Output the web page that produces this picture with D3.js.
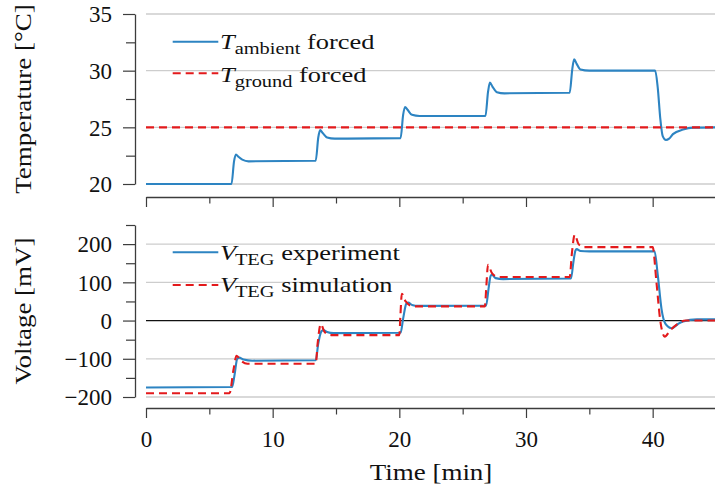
<!DOCTYPE html>
<html>
<head>
<meta charset="utf-8">
<script src="https://cdn.jsdelivr.net/npm/d3@7"></script>
<style>
  html, body { margin: 0; padding: 0; background: #fff; }
  svg { display: block; }
  text { font-family: "Liberation Serif", "Times New Roman", serif; fill: #111; }
</style>
</head>
<body>
<svg id="chart" width="715" height="491"></svg>
<script>
// ---------------- data ----------------
const xTicks = [0, 10, 20, 30, 40];
const xMinorTicks = [5, 15, 25, 35, 45];
const tempTicks = [20, 25, 30, 35];
const tempMinorTicks = [22.5, 27.5, 32.5];
const voltTicks = [-200, -100, 0, 100, 200];
const voltMinorTicks = [-150, -50, 50, 150, 250];
const voltGrid = [-200, -100, 100, 200];

// [time (min), temperature (°C)]
const ambientForced = [
  [0, 20], [6.75, 20], [6.95, 22.0], [7.1, 22.6], [7.3, 22.4], [7.6, 22.15], [8.1, 22.0], [13.4, 22.05],
  [13.6, 24.1], [13.75, 24.75], [13.95, 24.5], [14.3, 24.1], [14.9, 24.0], [20.1, 24.05],
  [20.3, 26.1], [20.45, 26.8], [20.65, 26.55], [21.0, 26.1], [21.6, 26.0], [26.8, 26.0],
  [27.0, 28.1], [27.15, 28.95], [27.35, 28.6], [27.7, 28.1], [28.3, 28.0], [33.45, 28.05],
  [33.65, 30.1], [33.8, 31.0], [34.0, 30.6], [34.3, 30.1], [35.0, 30.0], [40.2, 30.0],
  [40.4, 28.5], [40.6, 25.8], [40.8, 24.2], [41.05, 23.88], [41.3, 24.0], [41.6, 24.4],
  [42.4, 24.8], [43.2, 24.97], [45, 25.0]
];
const groundForced = [[0, 25], [45, 25]];

// [time (min), voltage (mV)]
const vExperiment = [
  [0, -175], [6.8, -174], [7.0, -140], [7.2, -100], [7.35, -97], [7.7, -102], [8.4, -105], [13.4, -104],
  [13.6, -60], [13.85, -28], [14.0, -25], [14.3, -30], [14.8, -33], [20.1, -32],
  [20.3, 5], [20.55, 44], [20.7, 47], [21.0, 41], [21.5, 38.5], [26.85, 39],
  [27.05, 85], [27.2, 116], [27.3, 120], [27.6, 111], [28.2, 108.5], [33.55, 110],
  [33.75, 155], [33.9, 183], [34.0, 187], [34.3, 182], [35.0, 181], [40.15, 181],
  [40.4, 120], [40.7, 30], [41.0, -8], [41.5, -20], [42.0, -9], [42.4, -2.5], [43.5, 3], [45, 3]
];
const vSimulation = [
  [0, -190], [6.6, -190], [6.9, -130], [7.15, -92], [7.5, -105], [8.0, -113], [13.4, -113],
  [13.55, -60], [13.8, -9], [14.1, -30], [14.6, -38], [20.0, -38],
  [20.08, 10], [20.2, 70], [20.5, 50], [21.1, 37], [26.75, 37],
  [26.87, 90], [27.0, 146], [27.3, 125], [27.8, 114], [33.45, 114],
  [33.62, 175], [33.85, 225], [34.15, 200], [34.6, 192], [40.0, 192],
  [40.3, 100], [40.6, 0], [40.95, -42], [41.4, -25], [42.0, -8], [42.6, 0], [45, 0]
];

// ---------------- layout ----------------
const svg = d3.select("#chart");
const X0 = 146, X1 = 716;
const yAxisX = 135;
const topP = { y0: 14, y1: 184, xAxisY: 197 };
const botP = { y0: 225, y1: 397, xAxisY: 408 };
const blue = "#2d84c2", red = "#e31a1c", gridCol = "#cdcdcd", axisCol = "#3c3c3c";
const SX = 1.2; // horizontal stretch for word labels

const x = d3.scaleLinear().domain([0, 45]).range([X0, X1]);
const yT = d3.scaleLinear().domain([20, 35]).range([topP.y1, topP.y0]);
const yV = d3.scaleLinear().domain([-200, 250]).range([botP.y1, botP.y0]);

function styleAxis(g) {
  g.selectAll("path.domain").attr("stroke", axisCol).attr("stroke-width", 1.3);
  g.selectAll(".tick line").attr("stroke", axisCol).attr("stroke-width", 1.2);
  g.selectAll("text").attr("font-size", 23).attr("fill", "#111")
    .style("font-family", '"Liberation Serif", serif');
}

// ---------------- grid ----------------
svg.append("g").selectAll("line").data(tempTicks).join("line")
  .attr("x1", X0).attr("x2", X1).attr("y1", d => yT(d)).attr("y2", d => yT(d))
  .attr("stroke", gridCol).attr("stroke-width", 1.3);
svg.append("g").selectAll("line").data(voltGrid).join("line")
  .attr("x1", X0).attr("x2", X1).attr("y1", d => yV(d)).attr("y2", d => yV(d))
  .attr("stroke", gridCol).attr("stroke-width", 1.3);
svg.append("line").attr("x1", X0).attr("x2", X1).attr("y1", yV(0)).attr("y2", yV(0))
  .attr("stroke", "#111").attr("stroke-width", 1.3);

// ---------------- axes ----------------
function yAxes(scale, major, minor, fmt) {
  const gMin = svg.append("g").attr("transform", `translate(${yAxisX},0)`)
    .call(d3.axisLeft(scale).tickValues(minor).tickSize(9).tickSizeOuter(0).tickFormat(""));
  styleAxis(gMin);
  gMin.select("path.domain").remove();
  const g = svg.append("g").attr("transform", `translate(${yAxisX},0)`)
    .call(d3.axisLeft(scale).tickValues(major).tickSize(12).tickSizeOuter(0).tickPadding(11).tickFormat(fmt));
  styleAxis(g);
  g.selectAll("text").attr("dy", "0.34em");
}
yAxes(yT, tempTicks, tempMinorTicks, d3.format("d"));
yAxes(yV, voltTicks, voltMinorTicks, d => d < 0 ? "\u2212" + Math.abs(d) : String(d));

function xAxes(yPos, labels) {
  const gMin = svg.append("g").attr("transform", `translate(0,${yPos})`)
    .call(d3.axisBottom(x).tickValues(xMinorTicks).tickSize(6.5).tickSizeOuter(0).tickFormat(""));
  styleAxis(gMin);
  gMin.select("path.domain").remove();
  const g = svg.append("g").attr("transform", `translate(0,${yPos})`)
    .call(d3.axisBottom(x).tickValues(xTicks).tickSize(10).tickSizeOuter(0).tickPadding(12.5)
      .tickFormat(labels ? d3.format("d") : ""));
  styleAxis(g);
}
xAxes(topP.xAxisY, false);
xAxes(botP.xAxisY, true);

// ---------------- lines ----------------
const lineT = d3.line().x(d => x(d[0])).y(d => yT(d[1])).curve(d3.curveMonotoneX);
const lineV = d3.line().x(d => x(d[0])).y(d => yV(d[1])).curve(d3.curveMonotoneX);

svg.append("path").datum(ambientForced).attr("d", lineT)
  .attr("fill", "none").attr("stroke", blue).attr("stroke-width", 2.1).attr("stroke-linejoin", "round");
svg.append("path").datum(groundForced).attr("d", lineT)
  .attr("fill", "none").attr("stroke", red).attr("stroke-width", 2.1).attr("stroke-dasharray", "8,5");

svg.append("path").datum(vExperiment).attr("d", lineV)
  .attr("fill", "none").attr("stroke", blue).attr("stroke-width", 2.1).attr("stroke-linejoin", "round");
svg.append("path").datum(vSimulation).attr("d", lineV)
  .attr("fill", "none").attr("stroke", red).attr("stroke-width", 2.1).attr("stroke-dasharray", "8,5");

// ---------------- axis titles ----------------
function stretchedText(xp, yp, rot, txt, anchor) {
  return svg.append("text")
    .attr("transform", `translate(${xp},${yp}) rotate(${rot}) scale(${SX},1)`)
    .attr("text-anchor", anchor).attr("font-size", 22.5).text(txt);
}
stretchedText(31, (topP.y0 + topP.y1) / 2, -90, "Temperature [°C]", "middle");
stretchedText(31, (botP.y0 + botP.y1) / 2, -90, "Voltage [mV]", "middle");
stretchedText((X0 + X1) / 2, 480, 0, "Time [min]", "middle");

// ---------------- legends ----------------
const legendTop = [
  { sym: "T", sub: "ambient", word: "forced", color: blue, dash: null, lineY: 41.7, base: 48.5 },
  { sym: "T", sub: "ground", word: "forced", color: red, dash: "8,5", lineY: 73.3, base: 81.5 }
];
const legendBot = [
  { sym: "V", sub: "TEG", word: "experiment", color: blue, dash: null, lineY: 252.3, base: 259.5 },
  { sym: "V", sub: "TEG", word: "simulation", color: red, dash: "8,5", lineY: 285, base: 291.5 }
];
function legend(items) {
  items.forEach(it => {
    svg.append("line").attr("x1", 172.7).attr("x2", 218.3).attr("y1", it.lineY).attr("y2", it.lineY)
      .attr("stroke", it.color).attr("stroke-width", 2.1).attr("stroke-dasharray", it.dash);
    const t = svg.append("text")
      .attr("transform", `translate(220,${it.base}) scale(${SX},1)`)
      .attr("font-size", 22);
    t.append("tspan").attr("font-style", "italic").text(it.sym);
    t.append("tspan").attr("font-size", 17).attr("dy", 5).attr("dx", it.sym === "V" ? -1 : 0).text(it.sub);
    t.append("tspan").attr("dy", -5).text("\u00a0" + it.word);
  });
}
legend(legendTop);
legend(legendBot);
</script>
</body>
</html>
